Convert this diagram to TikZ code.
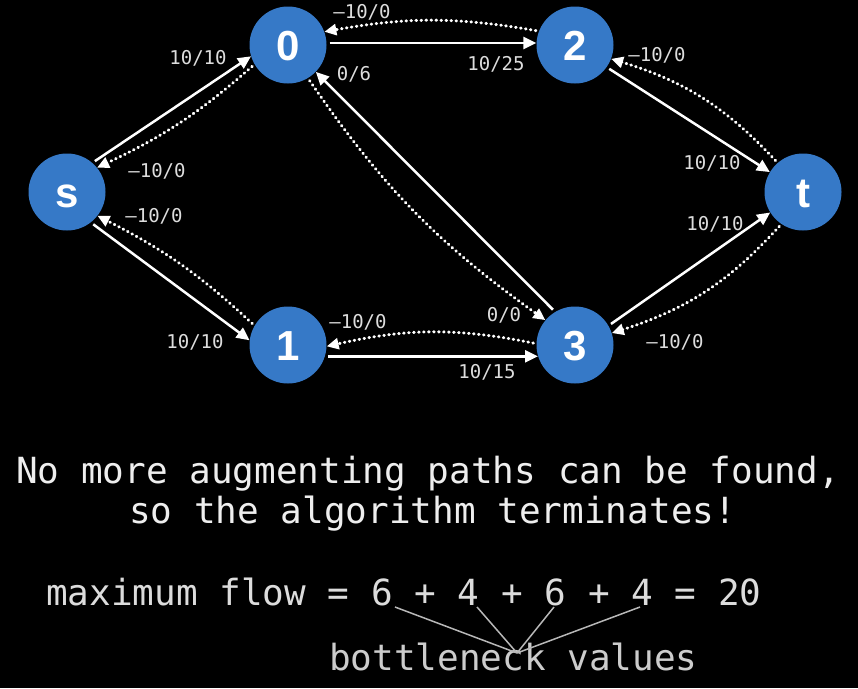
\documentclass[tikz,border=0pt]{standalone}
\usepackage{fontspec}
\setsansfont{Liberation Sans}
\setmonofont{DejaVu Sans Mono}
\usepackage{tikz}
\usetikzlibrary{arrows.meta}
\definecolor{vertexblue}{HTML}{3679C7}
\definecolor{labgray}{HTML}{DDDDDD}
\definecolor{msgwhite}{HTML}{EEEEEE}
\definecolor{sumgray}{HTML}{DCDCDC}
\definecolor{neckgray}{HTML}{CCCCCC}
\definecolor{linegray}{HTML}{B8B8B8}

\begin{document}
\begin{tikzpicture}[
      x=1pt, y=1pt,
      vertex/.style={circle, fill=vertexblue, minimum size=77pt, inner sep=0pt, text=white, font=\sffamily\bfseries\fontsize{42}{42}\selectfont, text height=30pt, text depth=0pt},
      flowarrow/.style={-{Triangle[length=13pt, width=12pt]}, line width=2.5pt, white, shorten <=3pt},
      residarrow/.style={-{Triangle[length=12pt, width=11pt]}, line width=3pt, white, dash pattern=on 0.6pt off 4.4pt, line cap=round, shorten <=3pt},
      lab/.style={font=\ttfamily\fontsize{19}{19}\selectfont, text=labgray, inner sep=0pt},
      bigtext/.style={font=\ttfamily\fontsize{36}{43}\selectfont, inner sep=0pt, anchor=base west},
      brace/.style={line width=1.5pt, linegray}
    ]
      % Background
      \path[use as bounding box, fill=black] (0,0) rectangle (858,-688);

      % Vertices
      \node[vertex] (s) at (67,-192) {s};
      \node[vertex] (0) at (288,-45) {0};
      \node[vertex] (2) at (575,-45) {2};
      \node[vertex] (t) at (803,-192) {t};
      \node[vertex] (1) at (288,-345) {1};
      \node[vertex] (3) at (575,-345) {3};

      % Flow edges
      \draw[flowarrow] (s.49) -- (0.197)
        node[lab] (l-s0) at (198,-58) {10/10};
      \draw[flowarrow] (s.308) -- (1.173)
        node[lab] (l-s1) at (195,-342) {10/10};
      \draw[flowarrow] (0.3) -- (2.177)
        node[lab] (l-02) at (496,-64) {10/25};
      \draw[flowarrow] (3.121) -- (0.316)
        node[lab] (l-30) at (354,-74) {0/6};
      \draw[flowarrow] (2.325) -- (t.149)
        node[lab] (l-2t) at (712,-163) {10/10};
      \draw[flowarrow] (3.30) -- (t.212)
        node[lab] (l-3t) at (715,-224) {10/10};
      \draw[flowarrow] (1.343) -- (3.197)
        node[lab] (l-13) at (487,-372) {10/15};

      % Residual edges
      \draw[residarrow] (0.210) to[bend left=8] (s.39)
        node[lab] (l-0s) at (157,-171) {–10/0};
      \draw[residarrow] (1.150) to[bend right=8] (s.322)
        node[lab] (l-1s) at (154,-216) {–10/0};
      \draw[residarrow] (2.159) to[bend right=10] (0.20)
        node[lab] (l-20) at (362,-12) {–10/0};
      \draw[residarrow] (0.301) to[bend right=10] (3.140)
        node[lab] (l-03) at (504,-315) {0/0};
      \draw[residarrow] (t.131) to[bend right=15] (2.339)
        node[lab] (l-t2) at (657,-55) {–10/0};
      \draw[residarrow] (t.236) to[bend left=15] (3.18)
        node[lab] (l-t3) at (675,-342) {–10/0};
      \draw[residarrow] (3.178) to[bend right=12] (1.358)
        node[lab] (l-31) at (358,-322) {–10/0};

      % Message and sum
      \node[bigtext, text=msgwhite] (msg1) at (16,-483) {No more augmenting paths can be found,};
      \node[bigtext, text=msgwhite] (msg2) at (129,-523) {so the algorithm terminates!};
      \node[bigtext, text=sumgray] (maxflow) at (46,-605) {maximum flow = 6 + 4 + 6 + 4 = 20};
      \node[bigtext, text=neckgray] (neckword) at (329,-670) {bottleneck values};

      % Lines to the bottleneck values
      \coordinate (neck) at (517,-653);
      \coordinate (b1) at (395,-607);
      \coordinate (b2) at (477,-607);
      \coordinate (b3) at (554,-607);
      \coordinate (b4) at (640,-607);
      \draw[brace] (b1) -- (neck) (b2) -- (neck) (b3) -- (neck) (b4) -- (neck);
    \end{tikzpicture}
\end{document}
